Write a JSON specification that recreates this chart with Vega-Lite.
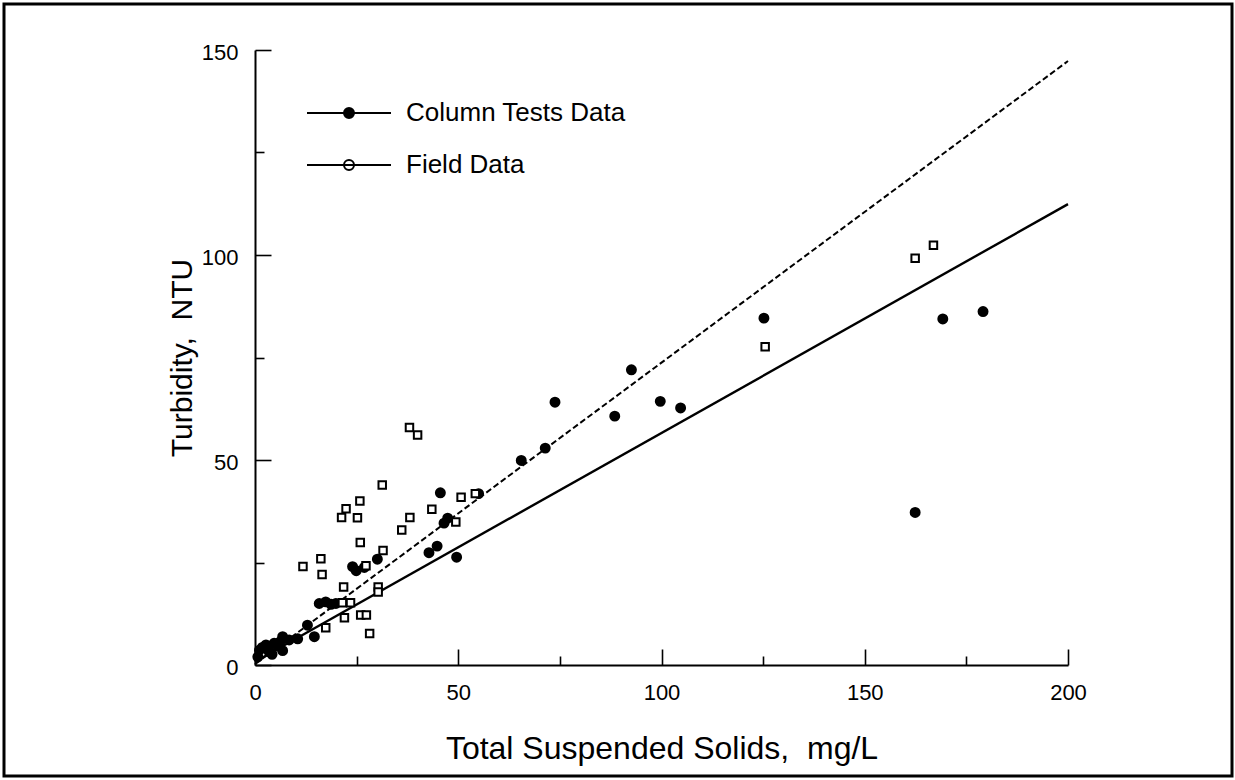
{
  "$schema": "https://vega.github.io/schema/vega-lite/v6.json",
  "width": 1228,
  "height": 772,
  "autosize": {"type": "none"},
  "padding": {"left": 4, "top": 4, "right": 3, "bottom": 4},
  "background": "white",
  "config": {
    "font": "Liberation Sans",
    "view": {"stroke": "black", "strokeWidth": 3},
    "axis": {
      "grid": false,
      "domainColor": "black",
      "domainWidth": 2,
      "tickColor": "black",
      "tickWidth": 1.6,
      "tickSize": -16,
      "labelColor": "black",
      "labelFont": "Liberation Sans",
      "labelFontSize": 22,
      "labelFlush": false,
      "labelOverlap": false,
      "labelBound": false,
      "titleColor": "black",
      "titleFont": "Liberation Sans",
      "titleFontWeight": "normal"
    },
    "legend": {
      "labelFont": "Liberation Sans",
      "labelFontSize": 26,
      "labelColor": "black",
      "labelLimit": 500
    }
  },
  "datasets": {
    "lines": [
      {"series": "Column Tests Data", "tss": 0, "ntu": 0.8},
      {"series": "Column Tests Data", "tss": 200, "ntu": 112.4},
      {"series": "Field Data", "tss": 0, "ntu": 0.2},
      {"series": "Field Data", "tss": 200, "ntu": 147.3}
    ],
    "pts": [
      {"series": "Column Tests Data", "tss": 0.7, "ntu": 2.0},
      {"series": "Column Tests Data", "tss": 1.1, "ntu": 3.6},
      {"series": "Column Tests Data", "tss": 1.8, "ntu": 4.3},
      {"series": "Column Tests Data", "tss": 2.7, "ntu": 4.9},
      {"series": "Column Tests Data", "tss": 3.5, "ntu": 3.2},
      {"series": "Column Tests Data", "tss": 4.2, "ntu": 2.6},
      {"series": "Column Tests Data", "tss": 4.7, "ntu": 5.3},
      {"series": "Column Tests Data", "tss": 5.6, "ntu": 4.6},
      {"series": "Column Tests Data", "tss": 6.1, "ntu": 5.6},
      {"series": "Column Tests Data", "tss": 6.8, "ntu": 3.5},
      {"series": "Column Tests Data", "tss": 6.8, "ntu": 6.9},
      {"series": "Column Tests Data", "tss": 8.4, "ntu": 6.1},
      {"series": "Column Tests Data", "tss": 10.5, "ntu": 6.4},
      {"series": "Column Tests Data", "tss": 12.9, "ntu": 9.7},
      {"series": "Column Tests Data", "tss": 14.6, "ntu": 6.9},
      {"series": "Column Tests Data", "tss": 15.8, "ntu": 15.0},
      {"series": "Column Tests Data", "tss": 17.4, "ntu": 15.4},
      {"series": "Column Tests Data", "tss": 18.7, "ntu": 14.8},
      {"series": "Column Tests Data", "tss": 19.9, "ntu": 15.0},
      {"series": "Column Tests Data", "tss": 24.0, "ntu": 24.0},
      {"series": "Column Tests Data", "tss": 24.9, "ntu": 23.0},
      {"series": "Column Tests Data", "tss": 26.9, "ntu": 23.8},
      {"series": "Column Tests Data", "tss": 30.1, "ntu": 25.8},
      {"series": "Column Tests Data", "tss": 42.8, "ntu": 27.4},
      {"series": "Column Tests Data", "tss": 44.8, "ntu": 29.0},
      {"series": "Column Tests Data", "tss": 46.5, "ntu": 34.6},
      {"series": "Column Tests Data", "tss": 47.4, "ntu": 35.8},
      {"series": "Column Tests Data", "tss": 45.6, "ntu": 42.0},
      {"series": "Column Tests Data", "tss": 49.6, "ntu": 26.3},
      {"series": "Column Tests Data", "tss": 55.0, "ntu": 41.8},
      {"series": "Column Tests Data", "tss": 65.5, "ntu": 49.9},
      {"series": "Column Tests Data", "tss": 71.4, "ntu": 52.9},
      {"series": "Column Tests Data", "tss": 73.8, "ntu": 64.1},
      {"series": "Column Tests Data", "tss": 88.5, "ntu": 60.7},
      {"series": "Column Tests Data", "tss": 92.6, "ntu": 72.0},
      {"series": "Column Tests Data", "tss": 99.7, "ntu": 64.3},
      {"series": "Column Tests Data", "tss": 104.7, "ntu": 62.7},
      {"series": "Column Tests Data", "tss": 125.2, "ntu": 84.6},
      {"series": "Column Tests Data", "tss": 162.4, "ntu": 37.2},
      {"series": "Column Tests Data", "tss": 169.2, "ntu": 84.4},
      {"series": "Column Tests Data", "tss": 179.1, "ntu": 86.2},
      {"series": "Field Data", "tss": 11.8, "ntu": 24.0},
      {"series": "Field Data", "tss": 16.2, "ntu": 25.9},
      {"series": "Field Data", "tss": 16.5, "ntu": 22.1},
      {"series": "Field Data", "tss": 17.4, "ntu": 9.1},
      {"series": "Field Data", "tss": 21.3, "ntu": 36.0},
      {"series": "Field Data", "tss": 22.4, "ntu": 38.1},
      {"series": "Field Data", "tss": 25.2, "ntu": 35.9},
      {"series": "Field Data", "tss": 25.8, "ntu": 40.0},
      {"series": "Field Data", "tss": 25.9, "ntu": 29.9},
      {"series": "Field Data", "tss": 31.3, "ntu": 43.9},
      {"series": "Field Data", "tss": 21.8, "ntu": 19.0},
      {"series": "Field Data", "tss": 21.5, "ntu": 15.2},
      {"series": "Field Data", "tss": 23.5, "ntu": 15.2},
      {"series": "Field Data", "tss": 22.0, "ntu": 11.5},
      {"series": "Field Data", "tss": 26.0, "ntu": 12.2},
      {"series": "Field Data", "tss": 27.4, "ntu": 12.2},
      {"series": "Field Data", "tss": 28.2, "ntu": 7.7},
      {"series": "Field Data", "tss": 30.3, "ntu": 19.0},
      {"series": "Field Data", "tss": 30.3, "ntu": 17.8},
      {"series": "Field Data", "tss": 31.5, "ntu": 27.9},
      {"series": "Field Data", "tss": 27.3, "ntu": 24.2},
      {"series": "Field Data", "tss": 36.1, "ntu": 32.9},
      {"series": "Field Data", "tss": 38.1, "ntu": 36.0},
      {"series": "Field Data", "tss": 38.0, "ntu": 57.9},
      {"series": "Field Data", "tss": 40.0, "ntu": 56.1},
      {"series": "Field Data", "tss": 43.5, "ntu": 38.0},
      {"series": "Field Data", "tss": 49.4, "ntu": 34.9},
      {"series": "Field Data", "tss": 50.7, "ntu": 40.9},
      {"series": "Field Data", "tss": 54.2, "ntu": 41.8},
      {"series": "Field Data", "tss": 125.5, "ntu": 77.6},
      {"series": "Field Data", "tss": 162.4, "ntu": 99.2},
      {"series": "Field Data", "tss": 166.9, "ntu": 102.4}
    ]
  },
  "layer": [
    {
      "data": {"name": "lines"},
      "transform": [{"filter": "datum.series === 'Column Tests Data'"}],
      "mark": {"type": "line", "color": "black", "strokeWidth": 2.4},
      "encoding": {
        "x": {
          "field": "tss", "type": "quantitative",
          "scale": {"domain": [0, 200], "range": [251, 1064], "nice": false, "zero": false},
          "axis": {
            "title": "Total Suspended Solids,\u00a0 mg/L",
            "titleFontSize": 32,
            "offset": -111,
            "values": [0, 25, 50, 75, 100, 125, 150, 175, 200],
            "labelExpr": "datum.value % 50 === 0 ? datum.label : ''",
            "tickDash": {"condition": {"test": "datum.value % 50 === 0", "value": [20, 0]}, "value": [9, 40]},
            "labelPadding": 33,
            "titlePadding": 30
          }
        },
        "y": {
          "field": "ntu", "type": "quantitative",
          "scale": {"domain": [0, 150], "range": [661, 46], "nice": false, "zero": false},
          "axis": {
            "title": "Turbidity,\u00a0 NTU",
            "titleFontSize": 30,
            "offset": -251,
            "values": [0, 25, 50, 75, 100, 125, 150],
            "labelExpr": "datum.value % 50 === 0 ? datum.label : ''",
            "tickDash": {"condition": {"test": "datum.value % 50 === 0", "value": [20, 0]}, "value": [9, 40]},
            "labelPadding": 33,
            "labelOffset": 2,
            "titlePadding": 4
          }
        }
      }
    },
    {
      "data": {"name": "lines"},
      "transform": [{"filter": "datum.series === 'Field Data'"}],
      "mark": {"type": "line", "color": "black", "strokeWidth": 2, "strokeDash": [6, 3]},
      "encoding": {
        "x": {"field": "tss", "type": "quantitative"},
        "y": {"field": "ntu", "type": "quantitative"}
      }
    },
    {
      "data": {"name": "pts"},
      "transform": [{"filter": "datum.series === 'Column Tests Data'"}],
      "mark": {"type": "point", "shape": "circle", "size": 80, "filled": true, "opacity": 1, "stroke": "black", "strokeWidth": 2},
      "encoding": {
        "x": {"field": "tss", "type": "quantitative"},
        "y": {"field": "ntu", "type": "quantitative"},
        "fill": {
          "field": "series", "type": "nominal",
          "scale": {"domain": ["Column Tests Data", "Field Data"], "range": ["black", "white"]},
          "legend": {
            "title": null,
            "orient": "none",
            "legendX": 332,
            "legendY": 96,
            "padding": 0,
            "symbolType": "M-4.2,0H4.2M0.5,0A0.5,0.5 0 1,1 -0.5,0A0.5,0.5 0 1,1 0.5,0Z",
            "symbolSize": 400,
            "symbolStrokeWidth": 2,
            "symbolStrokeColor": "black",
            "labelOffset": 44,
            "labelLimit": 500,
            "rowPadding": 26,
            "encode": {
              "symbols": {
                "stroke": {"value": "black"},
                "strokeWidth": {"value": 2},
                "strokeDash": {"condition": {"test": "datum.value === 'Field Data'", "value": [5, 3]}, "value": [1, 0]},
                "opacity": {"value": 1},
                "size": {"value": 400}
              }
            }
          }
        }
      }
    },
    {
      "data": {"name": "pts"},
      "transform": [{"filter": "datum.series === 'Field Data'"}],
      "mark": {"type": "point", "shape": "square", "size": 56, "filled": true, "opacity": 1, "stroke": "black", "strokeWidth": 2},
      "encoding": {
        "x": {"field": "tss", "type": "quantitative"},
        "y": {"field": "ntu", "type": "quantitative"},
        "fill": {
          "field": "series", "type": "nominal",
          "scale": {"domain": ["Column Tests Data", "Field Data"], "range": ["black", "white"]},
          "legend": {
            "title": null,
            "orient": "none",
            "legendX": 332,
            "legendY": 96,
            "padding": 0,
            "symbolType": "M-4.2,0H4.2M0.5,0A0.5,0.5 0 1,1 -0.5,0A0.5,0.5 0 1,1 0.5,0Z",
            "symbolSize": 400,
            "symbolStrokeWidth": 2,
            "symbolStrokeColor": "black",
            "labelOffset": 44,
            "labelLimit": 500,
            "rowPadding": 26,
            "encode": {
              "symbols": {
                "stroke": {"value": "black"},
                "strokeWidth": {"value": 2},
                "strokeDash": {"condition": {"test": "datum.value === 'Field Data'", "value": [5, 3]}, "value": [1, 0]},
                "opacity": {"value": 1},
                "size": {"value": 400}
              }
            }
          }
        }
      }
    },
    {
      "mark": {"type": "rule", "color": "black", "strokeWidth": 1.5},
      "encoding": {"x": {"datum": 200}, "y": {"datum": 0}, "y2": {"datum": 150}}
    },
    {
      "mark": {"type": "rule", "color": "black", "strokeWidth": 1.5},
      "encoding": {"y": {"datum": 150}, "x": {"datum": 0}, "x2": {"datum": 200}}
    }
  ]
}
